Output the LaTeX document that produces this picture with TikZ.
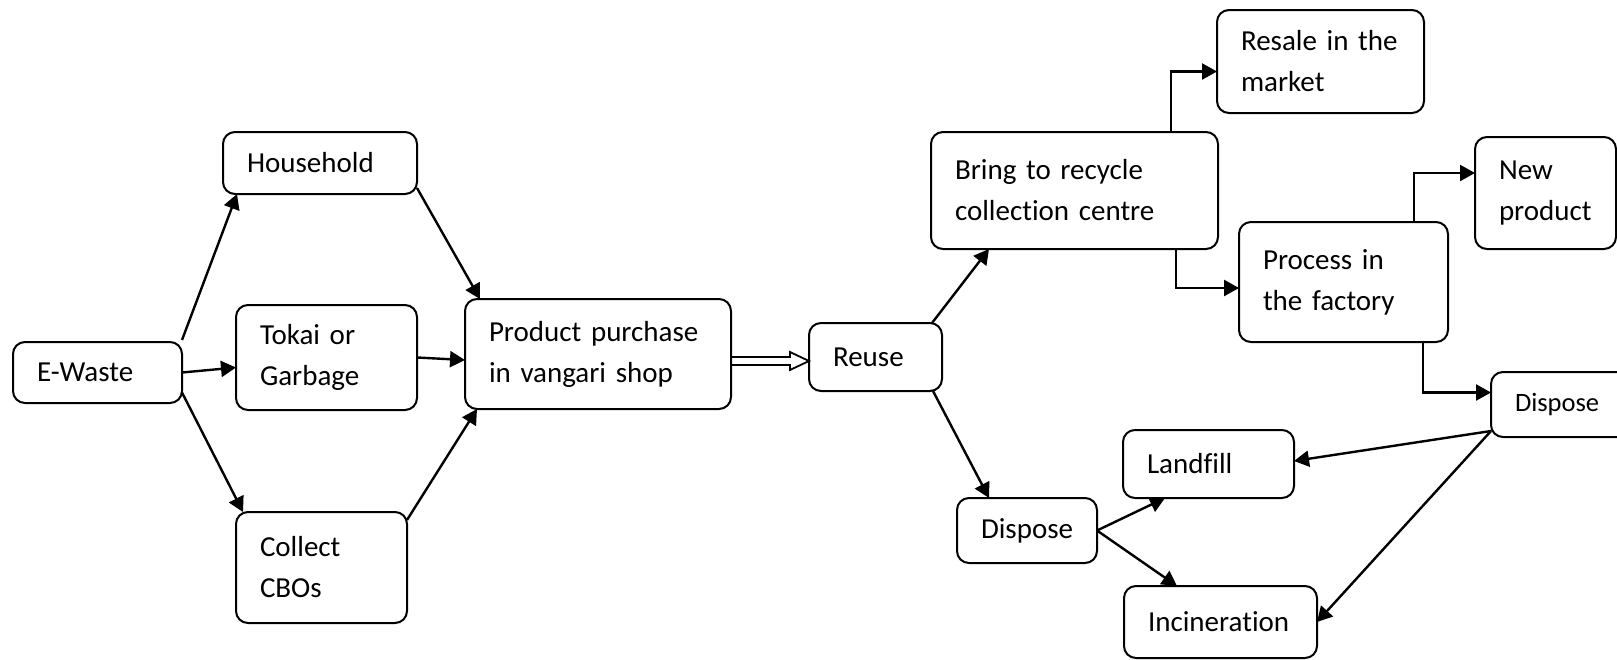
\documentclass[tikz,border=0pt]{standalone}
\usepackage{fontspec}
\setmainfont[Ligatures=NoCommon]{Carlito}
\usetikzlibrary{arrows.meta}

\begin{document}
\begin{tikzpicture}[
    x=1pt, y=-1pt,
    box/.style={draw, line width=2pt, rounded corners=12pt, anchor=north west, align=left,
        inner xsep=24pt, inner ysep=0pt, outer sep=0pt, font=\fontsize{29}{41}\selectfont},
    arr/.style={-{Triangle[length=15pt, width=16pt]}, line width=2.4pt},
    hollow/.style={line width=1.8pt, line join=miter}
]
\useasboundingbox (0,0) rectangle (1617,659);

% where the waste comes from
\node[box, text width=121pt, minimum height=61pt]  (ewaste)    at (13,342)  {E-Waste};
\node[box, text width=146pt, minimum height=62pt]  (household) at (223,132) {Household};
\node[box, text width=133pt, minimum height=105pt] (tokai)     at (236,305) {Tokai or\\ Garbage};
\node[box, text width=123pt, minimum height=111pt] (collect)   at (236,512) {Collect\\ CBOs};
\node[box, text width=218pt, minimum height=110pt] (product)   at (465,299) {Product purchase\\ in vangari shop};
\node[box, text width=85pt,  minimum height=68pt]  (reuse)     at (809,323) {Reuse};

% recycling branch
\node[box, text width=239pt, minimum height=117pt] (recycle)   at (931,132)  {Bring to recycle\\ collection centre};
\node[box, text width=159pt, minimum height=103pt] (resale)    at (1217,10)  {Resale in the\\ market};
\node[box, text width=161pt, minimum height=120pt] (process)   at (1239,222) {Process in\\ the factory};
\node[box, text width=93pt,  minimum height=112pt] (newprod)   at (1475,137) {New\\ product};
\node[box, text width=100pt, minimum height=65pt, font=\fontsize{26.5}{37}\selectfont] (dispose2) at (1491,372) {Dispose};

% disposal branch
\node[box, text width=92pt,  minimum height=65pt]  (dispose1)  at (957,498)  {Dispose};
\node[box, text width=123pt, minimum height=68pt]  (landfill)  at (1123,430) {Landfill};
\node[box, text width=145pt, minimum height=72pt]  (incin)     at (1124,586) {Incineration};

\draw[arr] ([yshift=2pt]ewaste.north east) -- ([xshift=14pt]household.south west);
\draw[arr] (ewaste.east) -- ([yshift=-10pt]tokai.west);
\draw[arr] ([yshift=-20pt]ewaste.east) -- ([xshift=7pt]collect.north west);

\draw[arr] ([yshift=6pt]household.south east) -- ([xshift=15pt]product.north west);
\draw[arr] (tokai.east) -- ([yshift=-6pt]product.west);
\draw[arr] ([yshift=-8pt]collect.north east) -- ([xshift=12pt]product.south west);

% block arrow into reuse
\draw[hollow] (product.east |- 0,357) -- (790,357) -- (790,352) -- (reuse.west |- 0,361)
    -- (790,370) -- (790,365) -- (product.east |- 0,365);

\draw[arr] ([xshift=-10pt]reuse.north east) -- ([xshift=58pt]recycle.south west);
\draw[arr] ([xshift=-9pt]reuse.south east) -- ([xshift=32pt]dispose1.north west);

\draw[arr] (recycle.north -| 1171,0) |- ([yshift=-10pt]resale.west);
\draw[arr] (recycle.south -| 1176,0) |- ([yshift=-6pt]process.west);
\draw[arr] (process.north -| 1414,0) |- ([yshift=20pt]newprod.west);
\draw[arr] (process.south -| 1423,0) |- ([yshift=12pt]dispose2.west);

\draw[arr] ([yshift=6pt]dispose2.south west) -- ([yshift=3pt]landfill.east);
\draw[arr] ([yshift=6pt]dispose2.south west) -- (incin.east);
\draw[arr] (dispose1.east) -- ([xshift=42pt]landfill.south west);
\draw[arr] (dispose1.east) -- ([xshift=53pt]incin.north west);
\end{tikzpicture}
\end{document}
